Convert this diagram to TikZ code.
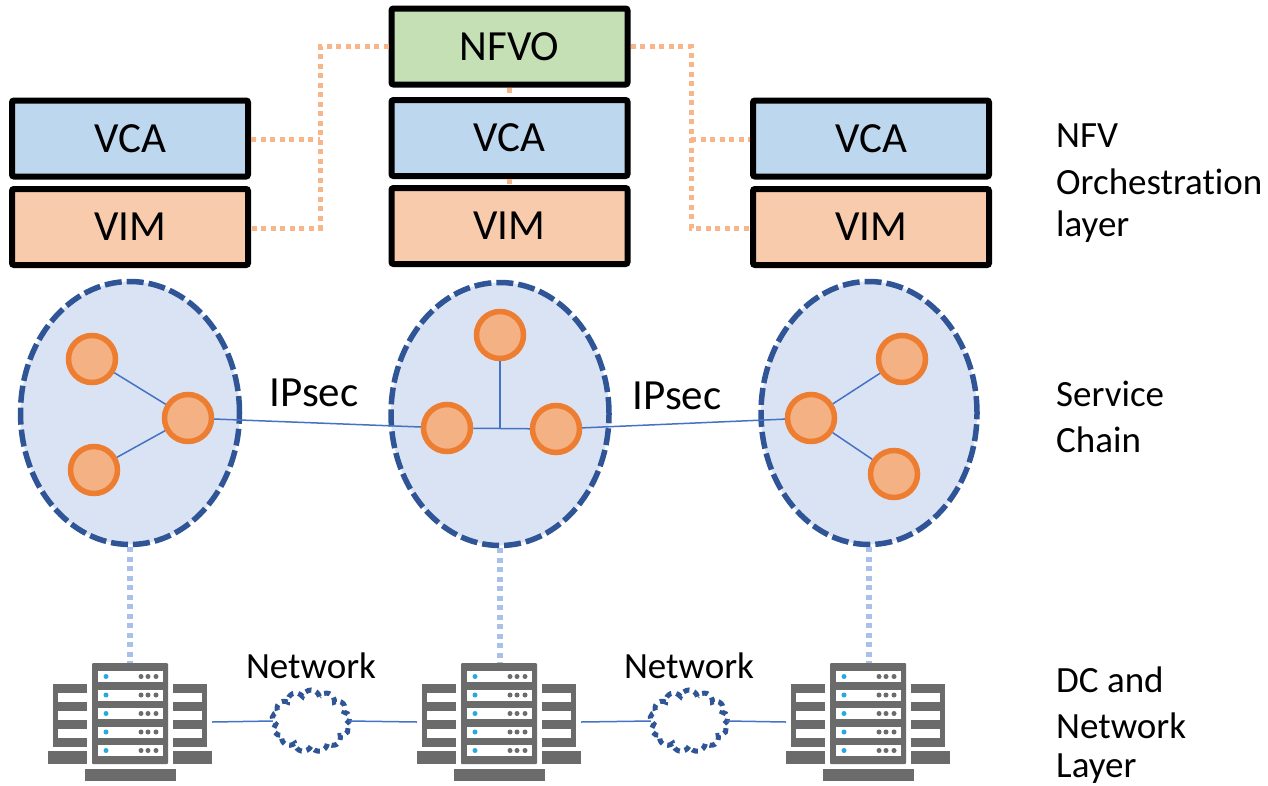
\documentclass[tikz,border=0pt]{standalone}
\usepackage{fontspec}
\setmainfont{Carlito}[Ligatures=NoCommon]
\usetikzlibrary{calc,positioning,shapes.geometric,shapes.symbols}
\definecolor{vcablue}{HTML}{BDD7EE}
\definecolor{vimorange}{HTML}{F8CBAD}
\definecolor{nfvogreen}{HTML}{C5E0B4}
\definecolor{mgmtline}{HTML}{F7B68A}
\definecolor{chainfill}{HTML}{DAE3F3}
\definecolor{chainline}{HTML}{2F5597}
\definecolor{vnffill}{HTML}{F4B183}
\definecolor{vnfline}{HTML}{ED7D31}
\definecolor{linkline}{HTML}{4472C4}
\definecolor{hostline}{HTML}{A9C1EA}
\definecolor{srvgray}{HTML}{6B6B6B}
\definecolor{ledblue}{HTML}{29A8E0}
\tikzset{
box/.style={draw=black,line width=6pt,rounded corners=2pt,minimum width=236pt,minimum height=76pt,inner sep=0pt,font=\fontsize{43}{43}\selectfont},
mgmt/.style={draw=mgmtline,line width=5pt,dash pattern=on 5pt off 4.5pt},
host/.style={draw=hostline,line width=5.5pt,dash pattern=on 5pt off 4.5pt},
chain/.style={ellipse,draw=chainline,fill=chainfill,line width=5.5pt,dash pattern=on 17pt off 5pt,inner sep=0pt},
vnf/.style={circle,draw=vnfline,fill=vnffill,line width=5.5pt,minimum size=47pt,inner sep=0pt},
link/.style={draw=linkline,line width=1.5pt},
srv/.style={minimum width=164pt,minimum height=118pt,inner sep=0pt,outer sep=0pt},
net/.style={cloud,cloud puffs=13,cloud puff arc=150,aspect=1.25,draw=chainline,line width=5pt,dash pattern=on 6pt off 5pt,minimum width=78pt,minimum height=62pt,inner sep=0pt,outer sep=0pt},
lbl/.style={font=\fontsize{37}{37}\selectfont,inner sep=0pt},
iplbl/.style={font=\fontsize{43}{43}\selectfont,inner sep=0pt},
srvicon/.pic={
\fill[srvgray,rounded corners=1pt] (-38,-59) rectangle (38,42);
\foreach \r in {0,...,4}{
\fill[white] (-32,{-51+18.5*\r}) rectangle (33,{-40+18.5*\r});
\fill[ledblue] (-24,{-45.5+18.5*\r}) circle (2.5);
\foreach \d in {11,18,26}{\fill[srvgray] (\d,{-45.5+18.5*\r}) circle (2.5);}
}
\foreach \s in {-1,1}{
\fill[srvgray] ({\s*43},-38) rectangle ({\s*77},25);
\foreach \r in {0,1,2}{\fill[white] ({\s*43},{-29+18*\r}) rectangle ({\s*72},{-20+18*\r});}
\fill[srvgray] ({\s*43},29) rectangle ({\s*82},42);
}
\fill[srvgray] (-45,47) rectangle (46,59);
}
}
\begin{document}
\begin{tikzpicture}[x=1pt,y=-1pt]
\useasboundingbox (0,0) rectangle (1268,785);

\node[box,fill=vcablue] (vca1) at (130,138.5) {VCA};
\node[box,fill=vimorange] (vim1) at (130,227) {VIM};
\node[box,fill=nfvogreen] (nfvo) at (509.5,46.5) {NFVO};
\node[box,fill=vcablue] (vca2) at (509.5,138) {VCA};
\node[box,fill=vimorange] (vim2) at (509.5,226) {VIM};
\node[box,fill=vcablue] (vca3) at (871,138.5) {VCA};
\node[box,fill=vimorange] (vim3) at (871,227) {VIM};

\coordinate (t1) at (320,46.5);
\coordinate (j1) at (320,139);
\coordinate (b1) at (320,228);
\coordinate (t3) at (691,46.5);
\coordinate (j3) at (691,139);
\coordinate (b3) at (691,228);
\draw[mgmt] (nfvo.west) -- (t1) -- (b1) -- (vim1.east |- b1);
\draw[mgmt] (vca1.east |- j1) -- (j1);
\draw[mgmt] (nfvo.east) -- (t3) -- (b3) -- (vim3.west |- b3);
\draw[mgmt] (j3) -- (vca3.west |- j3);
\draw[mgmt] (nfvo.south) -- (vca2.north);
\draw[mgmt] (vca2.south) -- (vim2.north);

\node[chain,minimum width=219pt,minimum height=263pt] (sc1) at (130,413) {};
\node[chain,minimum width=218pt,minimum height=263pt] (sc2) at (500,414) {};
\node[chain,minimum width=216pt,minimum height=263pt] (sc3) at (869,413) {};

\node[vnf] (v11) at (92,359) {};
\node[vnf] (v12) at (94,470) {};
\node[vnf] (v13) at (188,418) {};
\node[vnf] (v21) at (500,335) {};
\node[vnf] (v22) at (447,428) {};
\node[vnf] (v23) at (556,429) {};
\node[vnf] (v31) at (902,359) {};
\node[vnf] (v32) at (894,474) {};
\node[vnf] (v33) at (811,418) {};
\coordinate (j2) at (500,429);

\draw[link] (v11) -- (v13);
\draw[link] (v12) -- (v13);
\draw[link] (v13) -- (v22);
\draw[link] (v22) -- (v23);
\draw[link] (v21) -- (j2);
\draw[link] (v23) -- (v33);
\draw[link] (v33) -- (v31);
\draw[link] (v33) -- (v32);

\node[iplbl] (ip1) at (314,393) {IPsec};
\node[iplbl] (ip2) at (677,396) {IPsec};

\node[srv] (srv1) at (130,722) {};
\node[srv] (srv2) at (499,722) {};
\node[srv] (srv3) at (868,722) {};
\pic at (srv1) {srvicon};
\pic at (srv2) {srvicon};
\pic at (srv3) {srvicon};

\node[net] (net1) at (311,721) {};
\node[net] (net2) at (689,721) {};
\node[lbl] (nl1) at (311,666) {Network};
\node[lbl] (nl2) at (689,666) {Network};

\draw[host] (sc1.south) -- (srv1.north);
\draw[host] (sc2.south) -- (srv2.north -| sc2.south);
\draw[host] (sc3.south) -- (srv3.north -| sc3.south);

\draw[link] (srv1.east) -- (net1.west);
\draw[link] (net1.east) -- (srv2.west);
\draw[link] (srv2.east) -- (net2.west);
\draw[link] (net2.east) -- (srv3.west);

\node[lbl,anchor=west] (la1) at (1056,136) {NFV};
\node[lbl,anchor=west] (la2) at (1056,182) {Orchestration};
\node[lbl,anchor=west] (la3) at (1056,227) {layer};
\node[lbl,anchor=west] (lb1) at (1056,394) {Service};
\node[lbl,anchor=west] (lb2) at (1056,440) {Chain};
\node[lbl,anchor=west] (lc1) at (1056,680) {DC and};
\node[lbl,anchor=west] (lc2) at (1056,726) {Network};
\node[lbl,anchor=west] (lc3) at (1056,768.5) {Layer};
\end{tikzpicture}
\end{document}
